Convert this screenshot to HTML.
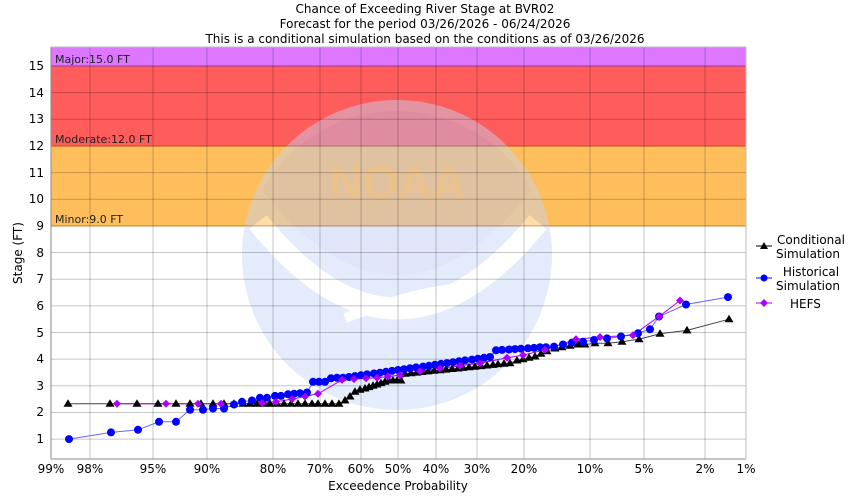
<!DOCTYPE html>
<html><head><meta charset="utf-8"><style>
html,body{margin:0;padding:0;background:#fff;}
svg{display:block;font-family:"DejaVu Sans","Liberation Sans",sans-serif;}
</style></head><body>
<svg width="850" height="500" xmlns="http://www.w3.org/2000/svg">
<defs>
<marker id="tri" markerUnits="userSpaceOnUse" markerWidth="10" markerHeight="10" refX="5" refY="5" overflow="visible"><polygon points="5,0.5 9.5,8 0.5,8" fill="#000"/></marker>
<marker id="dia" markerUnits="userSpaceOnUse" markerWidth="10" markerHeight="10" refX="5" refY="5" overflow="visible"><polygon points="5,1 9,5 5,9 1,5" fill="#a0f"/></marker>
<marker id="cir" markerUnits="userSpaceOnUse" markerWidth="10" markerHeight="10" refX="5" refY="5" overflow="visible"><circle cx="5" cy="5" r="4" fill="#00f"/></marker>
</defs>
<rect width="850" height="500" fill="#fff"/>
<g font-size="12" text-anchor="middle" fill="#000">
<text x="425" y="13">Chance of Exceeding River Stage at BVR02</text>
<text x="425" y="28">Forecast for the period 03/26/2026 - 06/24/2026</text>
<text x="425" y="43">This is a conditional simulation based on the conditions as of 03/26/2026</text>
</g>
<rect x="51" y="47" width="695" height="19" fill="#dd77ff"/>
<rect x="51" y="66" width="695" height="80" fill="#ff5c5c"/>
<rect x="51" y="146" width="695" height="80" fill="#ffbe5c"/>
<line x1="51" y1="66" x2="746" y2="66" stroke="#cc44cc"/>
<line x1="51" y1="146" x2="746" y2="146" stroke="#ee6622"/>
<line x1="51" y1="226" x2="746" y2="226" stroke="#eeaa44"/>
<g opacity="0.45">
<circle cx="397" cy="255" r="155" fill="#c4d6f7"/>
<path d="M262,190 A155,155 0 0 1 532,190 Q397,360 262,190 Z" fill="#b8baf0" opacity="0.6"/>
<path d="M258,222 Q397,395 538,222" stroke="#fff" stroke-width="22" fill="none"/>
<path d="M345,318 Q420,290 465,288" stroke="#fff" stroke-width="10" fill="none"/>
<text x="397" y="198" font-size="46" font-weight="bold" fill="#ffd070" opacity="0.35" text-anchor="middle" font-family="Liberation Sans,sans-serif">NOAA</text>
</g>
<g stroke="rgba(0,0,0,0.22)">
<line x1="51" y1="439.1" x2="746" y2="439.1"/><line x1="51" y1="412.45" x2="746" y2="412.45"/><line x1="51" y1="385.8" x2="746" y2="385.8"/><line x1="51" y1="359.15" x2="746" y2="359.15"/><line x1="51" y1="332.5" x2="746" y2="332.5"/><line x1="51" y1="305.85" x2="746" y2="305.85"/><line x1="51" y1="279.2" x2="746" y2="279.2"/><line x1="51" y1="252.55" x2="746" y2="252.55"/><line x1="51" y1="225.9" x2="746" y2="225.9"/><line x1="51" y1="199.25" x2="746" y2="199.25"/><line x1="51" y1="172.6" x2="746" y2="172.6"/><line x1="51" y1="145.95" x2="746" y2="145.95"/><line x1="51" y1="119.3" x2="746" y2="119.3"/><line x1="51" y1="92.65" x2="746" y2="92.65"/><line x1="51" y1="66" x2="746" y2="66"/>
<line x1="90" y1="47" x2="90" y2="459"/><line x1="153" y1="47" x2="153" y2="459"/><line x1="207" y1="47" x2="207" y2="459"/><line x1="273" y1="47" x2="273" y2="459"/><line x1="320" y1="47" x2="320" y2="459"/><line x1="361" y1="47" x2="361" y2="459"/><line x1="398" y1="47" x2="398" y2="459"/><line x1="436" y1="47" x2="436" y2="459"/><line x1="477" y1="47" x2="477" y2="459"/><line x1="524" y1="47" x2="524" y2="459"/><line x1="590" y1="47" x2="590" y2="459"/><line x1="644" y1="47" x2="644" y2="459"/><line x1="705" y1="47" x2="705" y2="459"/>
</g>
<line x1="51" y1="47" x2="51" y2="459" stroke="#888"/>
<line x1="51" y1="459" x2="746" y2="459" stroke="#888"/>
<line x1="51" y1="47" x2="746" y2="47" stroke="#bbb"/>
<line x1="746" y1="47" x2="746" y2="459" stroke="#bbb"/>
<g font-size="11" fill="#222">
<text x="55" y="63">Major:15.0 FT</text>
<text x="55" y="143">Moderate:12.0 FT</text>
<text x="55" y="223">Minor:9.0 FT</text>
</g>
<g font-size="12" text-anchor="end">
<text x="44" y="443">1</text><text x="44" y="416">2</text><text x="44" y="390">3</text><text x="44" y="363">4</text><text x="44" y="337">5</text><text x="44" y="310">6</text><text x="44" y="283">7</text><text x="44" y="257">8</text><text x="44" y="230">9</text><text x="44" y="203">10</text><text x="44" y="177">11</text><text x="44" y="150">12</text><text x="44" y="123">13</text><text x="44" y="97">14</text><text x="44" y="70">15</text>
</g>
<g font-size="12" text-anchor="middle">
<text x="51" y="473">99%</text><text x="90" y="473">98%</text><text x="153" y="473">95%</text><text x="207" y="473">90%</text><text x="273" y="473">80%</text><text x="320" y="473">70%</text><text x="361" y="473">60%</text><text x="398" y="473">50%</text><text x="436" y="473">40%</text><text x="477" y="473">30%</text><text x="524" y="473">20%</text><text x="590" y="473">10%</text><text x="644" y="473">5%</text><text x="705" y="473">2%</text><text x="746" y="473">1%</text>
</g>
<text x="398" y="490" font-size="12" text-anchor="middle">Exceedence Probability</text>
<text transform="translate(22,253) rotate(-90)" font-size="12" text-anchor="middle">Stage (FT)</text>

<polyline fill="none" stroke="#444" points="68,403.7 110,403.7 137,403.7 158,403.7 176,403.7 190,403.7 201,403.7 213,403.7 224,403.7 234,403.7 243,403.7 250,403.7 257,403.7 264,403.7 270,403.7 277,403.7 284,403.7 291,403.7 298,403.7 305,403.7 312,403.7 318,403.7 325,403.7 332,403.7 339,403.7 345,400.5 350,396.5 355,391.7 360,389.8 365,388.5 369,387.1 373,385.8 377,384.5 381,383.1 385,381.8 389,380.5 393,380.5 397,380.5 401,380.5 405,373.8 411,373.2 417,372.6 422,372.0 428,371.4 434,370.8 440,370.2 446,369.6 452,369.0 458,368.5 463,367.9 469,367.3 475,366.7 481,366.1 487,365.5 493,364.9 498,364.3 504,363.8 510,363.2 517,360.5 523,359.2 529,357.8 535,356.5 541,353.8 547,351.2 555,348.5 562,347.2 570,345.8 578,344.5 585,344.5 595,343.2 608,343.2 622,341.8 639,339.2 660,333.8 687,330.4 729,319.2"/>
<polyline fill="none" stroke="#66f" points="69,439.1 111,432.4 138,429.8 159,421.8 176,421.8 190,409.8 203,409.8 213,408.5 224,408.5 234,404.5 242,401.8 252,400.5 260,397.8 267,397.8 275,395.9 281,395.9 288,394.3 294,393.8 300,393.2 307,392.5 313,381.8 319,381.8 325,381.8 331,378.3 337,377.8 343,377.8 349,377.0 355,376.1 361,375.3 367,374.4 374,373.5 380,372.7 386,371.8 392,370.9 398,370.0 404,369.2 410,368.3 416,367.4 423,366.6 429,365.7 435,364.8 441,363.9 447,363.1 453,362.2 459,361.3 465,360.4 472,359.6 478,358.7 484,357.8 490,357.0 496,350.3 502,349.9 509,349.5 515,349.1 521,348.7 528,348.3 534,347.9 540,347.2 546,347.2 554,346.6 563,344.5 572,342.6 583,341.8 594,340.0 607,338.4 621,336.5 638,333.3 650,329.3 659,316.5 686,304.5 728,297.1"/>
<polyline fill="none" stroke="#a0f" points="117,403.7 166,403.7 198,403.7 221,403.7 262,403.1 276,401.8 292,399.1 305,396.5 318,393.8 342,379.9 354,379.1 366,378.3 377,377.8 388,376.5 400,375.1 420,371.1 440,368.5 460,365.8 480,363.2 507,357.8 523,355.1 545,349.8 576,339.2 600,337.0 633,335.2 659,316.5 680,300.5"/>

<polyline fill="none" stroke="none" marker-start="url(#tri)" marker-mid="url(#tri)" marker-end="url(#tri)" points="68,403.7 110,403.7 137,403.7 158,403.7 176,403.7 190,403.7 201,403.7 213,403.7 224,403.7 234,403.7 243,403.7 250,403.7 257,403.7 264,403.7 270,403.7 277,403.7 284,403.7 291,403.7 298,403.7 305,403.7 312,403.7 318,403.7 325,403.7 332,403.7 339,403.7 345,400.5 350,396.5 355,391.7 360,389.8 365,388.5 369,387.1 373,385.8 377,384.5 381,383.1 385,381.8 389,380.5 393,380.5 397,380.5 401,380.5 405,373.8 411,373.2 417,372.6 422,372.0 428,371.4 434,370.8 440,370.2 446,369.6 452,369.0 458,368.5 463,367.9 469,367.3 475,366.7 481,366.1 487,365.5 493,364.9 498,364.3 504,363.8 510,363.2 517,360.5 523,359.2 529,357.8 535,356.5 541,353.8 547,351.2 555,348.5 562,347.2 570,345.8 578,344.5 585,344.5 595,343.2 608,343.2 622,341.8 639,339.2 660,333.8 687,330.4 729,319.2"/>
<polyline fill="none" stroke="none" marker-start="url(#cir)" marker-mid="url(#cir)" marker-end="url(#cir)" points="69,439.1 111,432.4 138,429.8 159,421.8 176,421.8 190,409.8 203,409.8 213,408.5 224,408.5 234,404.5 242,401.8 252,400.5 260,397.8 267,397.8 275,395.9 281,395.9 288,394.3 294,393.8 300,393.2 307,392.5 313,381.8 319,381.8 325,381.8 331,378.3 337,377.8 343,377.8 349,377.0 355,376.1 361,375.3 367,374.4 374,373.5 380,372.7 386,371.8 392,370.9 398,370.0 404,369.2 410,368.3 416,367.4 423,366.6 429,365.7 435,364.8 441,363.9 447,363.1 453,362.2 459,361.3 465,360.4 472,359.6 478,358.7 484,357.8 490,357.0 496,350.3 502,349.9 509,349.5 515,349.1 521,348.7 528,348.3 534,347.9 540,347.2 546,347.2 554,346.6 563,344.5 572,342.6 583,341.8 594,340.0 607,338.4 621,336.5 638,333.3 650,329.3 659,316.5 686,304.5 728,297.1"/>
<polyline fill="none" stroke="none" marker-start="url(#dia)" marker-mid="url(#dia)" marker-end="url(#dia)" points="117,403.7 166,403.7 198,403.7 221,403.7 262,403.1 276,401.8 292,399.1 305,396.5 318,393.8 342,379.9 354,379.1 366,378.3 377,377.8 388,376.5 400,375.1 420,371.1 440,368.5 460,365.8 480,363.2 507,357.8 523,355.1 545,349.8 576,339.2 600,337.0 633,335.2 659,316.5 680,300.5"/>

<g font-size="12" text-anchor="middle">
<line x1="756" y1="246" x2="772" y2="246" stroke="#000"/>
<polygon points="764,242 768,249 760,249" fill="#000"/>
<text x="811" y="244">Conditional</text><text x="808" y="258">Simulation</text>
<line x1="756" y1="278" x2="772" y2="278" stroke="#00f"/>
<circle cx="764" cy="278" r="3.5" fill="#00f"/>
<text x="811" y="276">Historical</text><text x="808" y="290">Simulation</text>
<line x1="756" y1="303" x2="772" y2="303" stroke="#a0f"/>
<polygon points="764,299 768,303 764,307 760,303" fill="#a0f"/>
<text x="790" y="308" text-anchor="start">HEFS</text>
</g>
</svg>
</body></html>
